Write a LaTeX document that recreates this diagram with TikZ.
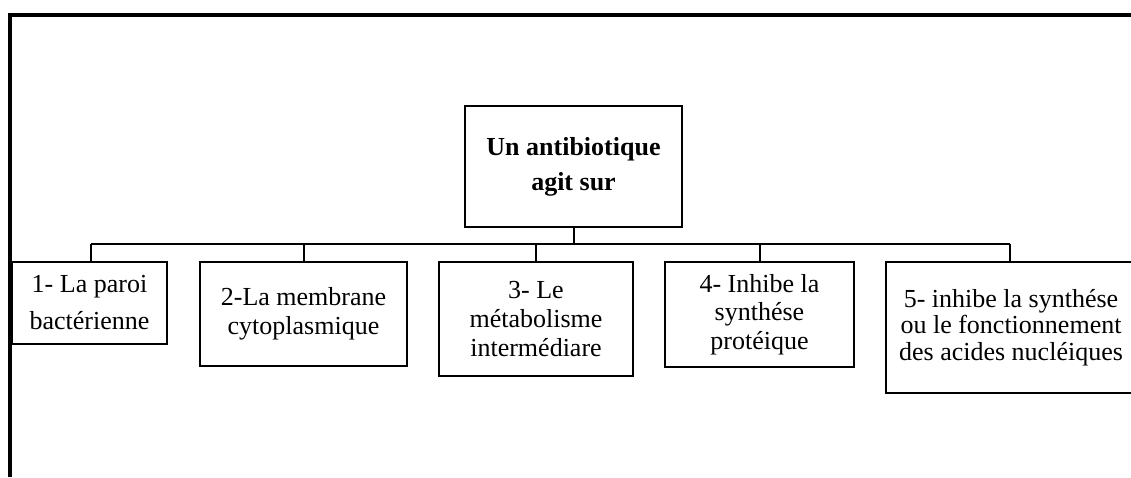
\documentclass[tikz,border=0pt]{standalone}
\usepackage{fontspec}
\setmainfont{Liberation Serif}
\begin{document}
\begin{tikzpicture}[x=1pt,y=-1pt,
  box/.style={draw=black, line width=2pt, fill=white, align=center, inner sep=0pt,
    font=\fontsize{26}{29}\selectfont},
  conn/.style={draw=black, line width=2pt},
  frame/.style={draw=black, line width=4pt}]
\useasboundingbox (0,0) rectangle (1131,477);
\draw[frame] (10,477) -- (10,15) -- (1131,15);

\node[box, minimum width=217pt, minimum height=121pt, font=\bfseries\fontsize{26}{35}\selectfont] (top) at (573.5,166.5) {Un antibiotique\\agit sur};

\node[box, minimum width=155pt, minimum height=82pt, font=\fontsize{26}{37}\selectfont] (b1) at (89.5,303) {1- La paroi\\bactérienne};
\node[box, minimum width=207pt, minimum height=104pt] (b2) at (303.5,314) {2-La membrane\\cytoplasmique};
\node[box, minimum width=194pt, minimum height=114pt] (b3) at (536,319) {3- Le\\métabolisme\\intermédiare};
\node[box, minimum width=189pt, minimum height=105pt, font=\fontsize{26}{28.5}\selectfont] (b4) at (759.5,314.5) {4- Inhibe la\\synthése\\protéique};
\node[box, minimum width=250pt, minimum height=131pt, font=\fontsize{26}{26.5}\selectfont] (b5) at (1011,327.5) {5- inhibe la synthése\\ou le fonctionnement\\des acides nucléiques};

\coordinate (busL) at (91,244);
\coordinate (busR) at (1010,244);
\draw[conn] (top.south) -- (top.south |- busL);
\draw[conn] (busL) -- (busR);
\draw[conn] (busL) -- (busL |- b1.north);
\draw[conn] (b2.north) -- (b2.north |- busL);
\draw[conn] (b3.north) -- (b3.north |- busL);
\draw[conn] (b4.north) -- (b4.north |- busL);
\draw[conn] (busR) -- (busR |- b5.north);
\end{tikzpicture}
\end{document}
